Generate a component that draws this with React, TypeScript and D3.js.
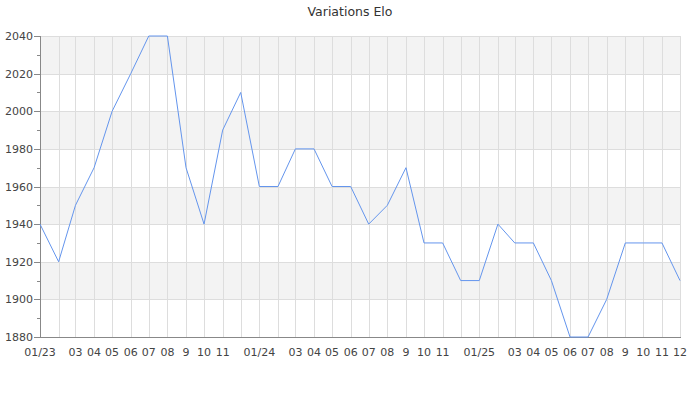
import * as d3 from "d3";

// monthly Elo from 01/2023 to 12/2025
const months = [
  "2023-01", "2023-02", "2023-03", "2023-04", "2023-05", "2023-06",
  "2023-07", "2023-08", "2023-09", "2023-10", "2023-11", "2023-12",
  "2024-01", "2024-02", "2024-03", "2024-04", "2024-05", "2024-06",
  "2024-07", "2024-08", "2024-09", "2024-10", "2024-11", "2024-12",
  "2025-01", "2025-02", "2025-03", "2025-04", "2025-05", "2025-06",
  "2025-07", "2025-08", "2025-09", "2025-10", "2025-11", "2025-12",
];
const elo = [
  1940, 1920, 1950, 1970, 2000, 2020, 2040, 2040, 1970, 1940, 1990, 2010,
  1960, 1960, 1980, 1980, 1960, 1960, 1940, 1950, 1970, 1930, 1930, 1910,
  1910, 1940, 1930, 1930, 1910, 1880, 1880, 1900, 1930, 1930, 1930, 1910,
];
const xLabels = [
  "01/23", "", "03", "04", "05", "06", "07", "08", "9", "10", "11", "",
  "01/24", "", "03", "04", "05", "06", "07", "08", "9", "10", "11", "",
  "01/25", "", "03", "04", "05", "06", "07", "08", "9", "10", "11", "12",
];
const yTicks = [1880, 1900, 1920, 1940, 1960, 1980, 2000, 2020, 2040];
const yMinorTicks = [1890, 1910, 1930, 1950, 1970, 1990, 2010, 2030];

const W = 700, H = 400;
const left = 40, right = 680, top = 36, bottom = 337;

// snap 1px lines onto the pixel grid
const crisp = (v: number) => Math.round(v) + 0.5;

export default function App() {
  const parse = d3.timeParse("%Y-%m");
  const dates = months.map((m) => parse(m) as Date);

  const x = d3.scaleTime()
    .domain([dates[0], dates[dates.length - 1]])
    .range([left, right]);
  const y = d3.scaleLinear().domain([1880, 2040]).range([bottom, top]);

  const line = d3.line<number>()
    .x((_, i) => x(dates[i]))
    .y((d) => y(d));

  const font = "DejaVu Sans, sans-serif";

  return (
    <svg width={W} height={H} style={{ position: "absolute", left: 0, top: 0 }} fontFamily={font}>
      <rect width={W} height={H} fill="#fff" />
      <text x={350} y={16} textAnchor="middle" fontSize={12.5} fill="#333">Variations Elo</text>

      {/* alternating bands */}
      {yTicks.slice(0, -1).map((t, i) =>
        i % 2 === 1 ? (
          <rect key={"b" + t} x={left} y={Math.round(y(t + 20))} width={right - left}
            height={Math.round(y(t)) - Math.round(y(t + 20))} fill="#f3f3f3" />
        ) : null
      )}

      {/* grid */}
      {yTicks.map((t) => (
        <line key={"gy" + t} x1={left} x2={right} y1={crisp(y(t))} y2={crisp(y(t))} stroke="#ddd" strokeWidth={1} />
      ))}
      {dates.slice(1).map((d, i) => (
        <line key={"gx" + i} x1={crisp(x(d))} x2={crisp(x(d))} y1={top} y2={bottom} stroke="#ddd" strokeWidth={1} />
      ))}

      {/* axes */}
      <line x1={crisp(left)} x2={crisp(left)} y1={top} y2={bottom} stroke="#888" />
      <line x1={left} x2={right + 1} y1={crisp(bottom)} y2={crisp(bottom)} stroke="#888" />
      {yTicks.map((t) => (
        <line key={"ty" + t} x1={left - 6} x2={left} y1={crisp(y(t))} y2={crisp(y(t))} stroke="#888" />
      ))}
      {yMinorTicks.map((t) => (
        <line key={"tm" + t} x1={left - 3} x2={left} y1={crisp(y(t))} y2={crisp(y(t))} stroke="#888" />
      ))}
      {yTicks.map((t) => (
        <text key={"ly" + t} x={left - 7} y={y(t) + 4} textAnchor="end" fontSize={11} fill="#444">{t}</text>
      ))}
      {xLabels.map((l, i) =>
        l ? (
          <text key={"lx" + i} x={x(dates[i])} y={356} textAnchor="middle" fontSize={11} fill="#444">{l}</text>
        ) : null
      )}

      <path d={line(elo) || ""} fill="none" stroke="#6495ed" strokeWidth={1} />
    </svg>
  );
}
